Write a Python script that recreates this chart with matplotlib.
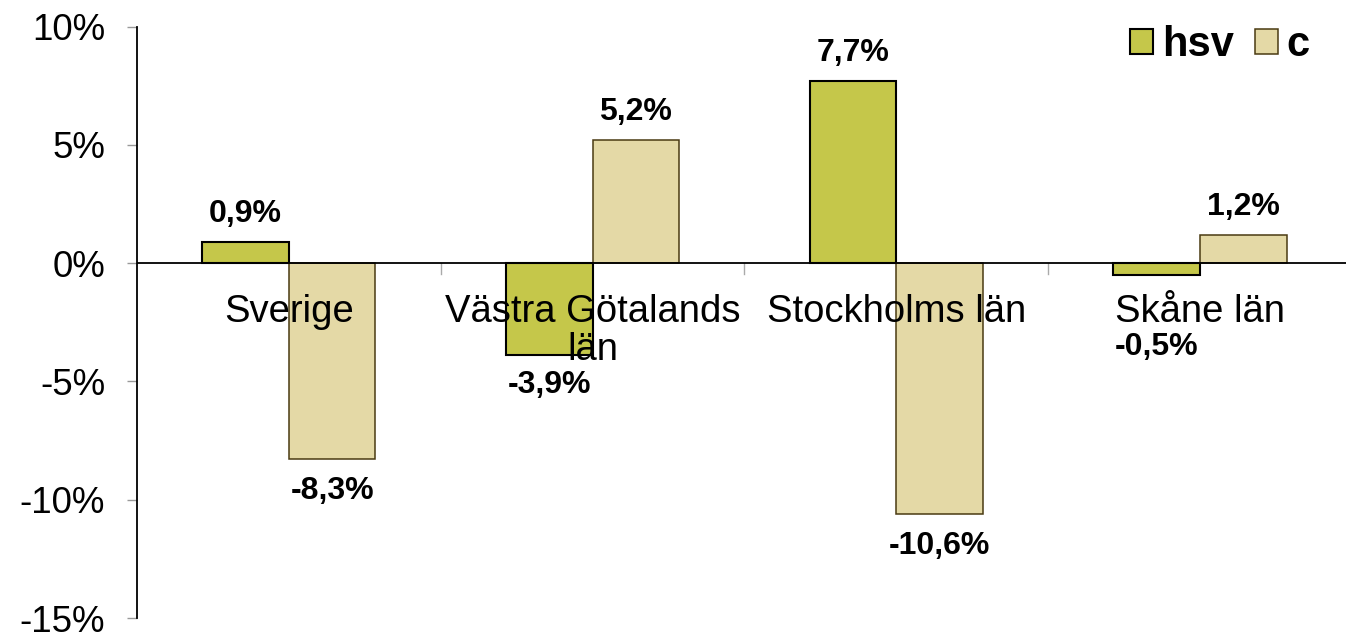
import matplotlib
matplotlib.use("Agg")
import matplotlib.pyplot as plt
import numpy as np
from matplotlib.patches import Patch

categories = ["Sverige", "Västra Götalands\nlän", "Stockholms län", "Skåne län"]
hsv_values = [0.9, -3.9, 7.7, -0.5]
c_values = [-8.3, 5.2, -10.6, 1.2]
series_names = ["hsv", "c"]
y_ticks = [-15, -10, -5, 0, 5, 10]

plt.rcParams['font.family'] = ['Liberation Sans', 'DejaVu Sans']

W, H = 1346, 632
fig = plt.figure(figsize=(W / 100, H / 100), dpi=100)
left_px, top_px, bottom_px = 137, 26.5, 618
group_px = 303.7
ax = fig.add_axes([left_px / W, 1 - bottom_px / H, (W - left_px) / W, (bottom_px - top_px) / H])

hsv_color = "#C5C74A"
c_color = "#E4D9A6"
c_edge = "#4A3A12"
bw = 0.285
x = np.arange(len(categories))

ax.bar(x - bw / 2, hsv_values, bw, color=hsv_color, edgecolor="black", linewidth=1.5, zorder=3)
ax.bar(x + bw / 2, c_values, bw, color=c_color, edgecolor=c_edge, linewidth=1.1, zorder=3)

ax.set_xlim(-0.5, -0.5 + (W - left_px) / group_px)
ax.set_ylim(-15, 10)
ax.set_yticks(y_ticks)
ax.set_yticklabels([f"{t}%" for t in y_ticks], fontsize=26.5)
ax.tick_params(axis='y', direction='out', length=7, width=1, color='#999999', pad=16)

# x ticks as group separators on the zero line
ax.set_xticks([])
for b in np.arange(0.5, len(categories) - 0.5 + 0.01, 1.0):
    ax.plot([b, b], [0, -0.45], color='#aaaaaa', lw=1, zorder=2, clip_on=False)

ax.axhline(0, color='black', lw=1.3, zorder=4)
for s in ['top', 'right', 'bottom']:
    ax.spines[s].set_visible(False)
ax.spines['left'].set_linewidth(1.3)

for i, cat in enumerate(categories):
    ax.annotate(cat, xy=(i, 0), xytext=(0, -22), textcoords='offset points',
                ha='center', va='top', fontsize=27.5, zorder=5, linespacing=1.1)

hsv_off = [20, -21, 20, -52]
c_off = [-23, 20, -23, 20]
for i in range(len(categories)):
    for xv, v, off in ((x[i] - bw / 2, hsv_values[i], hsv_off[i]), (x[i] + bw / 2, c_values[i], c_off[i])):
        ax.annotate(f"{v:.1f}%".replace(".", ","), xy=(xv, v), xytext=(0, off),
                    textcoords='offset points', ha='center', va='center',
                    fontsize=23, fontweight='bold', zorder=6)

handles = [Patch(facecolor=hsv_color, edgecolor='black', linewidth=1.5),
           Patch(facecolor=c_color, edgecolor=c_edge, linewidth=1.1)]
leg = ax.legend(handles, series_names, loc='upper right', bbox_to_anchor=(0.984, 1.03),
                ncol=2, frameon=False, prop={'weight': 'bold', 'size': 30},
                handlelength=0.55, handleheight=0.55, handletextpad=0.22,
                columnspacing=0.5, borderaxespad=0)

fig.savefig("out.png", dpi=100)
